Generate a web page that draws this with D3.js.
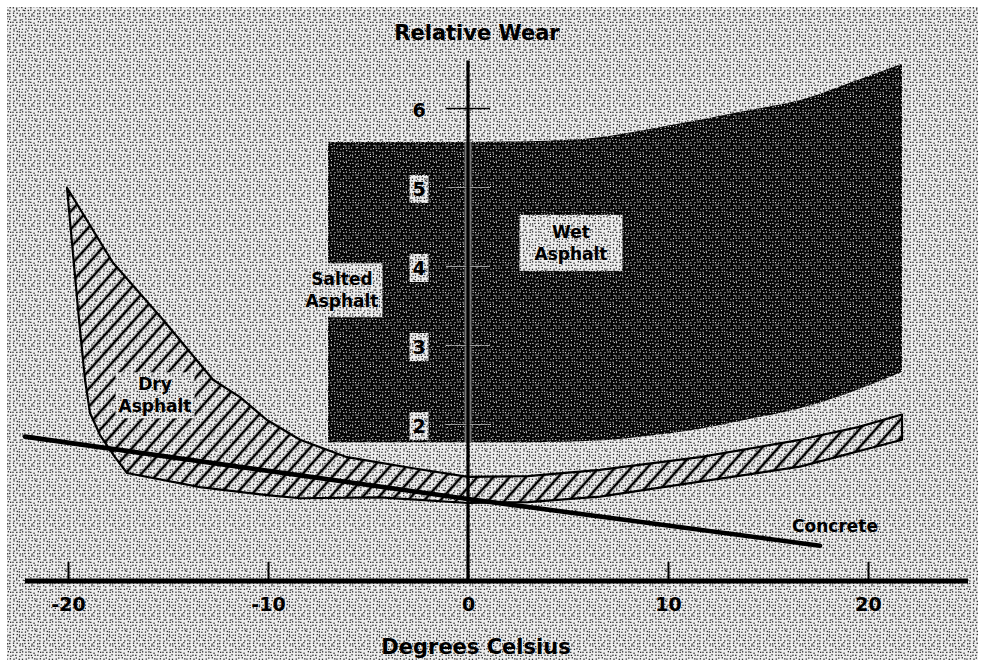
<!DOCTYPE html>
<html>
<head>
<meta charset="utf-8">
<script src="https://cdn.jsdelivr.net/npm/d3@7"></script>
<style>
  html, body { margin: 0; padding: 0; background: #ffffff; }
  svg { display: block; }
  text { font-family: "DejaVu Sans", "Liberation Sans", sans-serif; font-weight: bold; fill: #000; }
</style>
</head>
<body>
<svg id="chart" width="985" height="667"></svg>
<script>
// ---------------- data ----------------
const xTicks = [-20, -10, 0, 10, 20];
const yTicks = [2, 3, 4, 5, 6];
const xTitle = "Degrees Celsius";
const yTitle = "Relative Wear";

// Wet asphalt band (solid dark band)
const wetX      = [-7,   0,    3,    6.6,  9,    11.6, 14,   16.6, 19.1, 21.7];
const wetTop    = [5.57, 5.57, 5.58, 5.63, 5.73, 5.85, 5.97, 6.10, 6.32, 6.56];
const wetBottom = [1.77, 1.77, 1.77, 1.79, 1.85, 1.94, 2.06, 2.20, 2.40, 2.66];

// Dry asphalt band (hatched), upper edge left->right
const dryUpperX = [-20.05, -17.75, -15.25, -12.75, -11.4, -10.05, -8.4, -6.05, -2.75, 0,    3,    6.6,  11.6, 16.6, 19.5, 21.7];
const dryUpperY = [4.99,   4.04,   3.32,   2.56,   2.34,  2.05,   1.80, 1.58,  1.44,  1.33, 1.34, 1.42, 1.58, 1.80, 1.96, 2.12];
// lower edge right->left, then left edge upward
const dryLowerX = [21.7, 16.6, 11.6, 6.6,  3,    0,    -4.4, -8.4, -10.05, -13.4, -17.05, -17.65, -18.4, -18.9, -19.15, -19.45];
const dryLowerY = [1.80, 1.46, 1.27, 1.08, 1.01, 1.00, 1.07, 1.06, 1.10,   1.20,  1.38,   1.58,   1.86,  2.14,  2.56,   3.32];

// Concrete line
const concreteX = [-22.15, 0,    17.6];
const concreteY = [1.84,   1.05, 0.46];

// Labels
const bandLabels = [
  { lines: ["Wet", "Asphalt"],    x: 5.15,  y: 4.28, padX: 15, padY: 7 },
  { lines: ["Salted", "Asphalt"], x: -6.3,  y: 3.68, padX: 4,  padY: 6 },
  { lines: ["Dry", "Asphalt"],    x: -15.65, y: 2.35, padX: 3, padY: 2 }
];
const concreteLabel = { text: "Concrete", x: 18.35, y: 0.633 };

// ---------------- scales ----------------
const svg = d3.select("#chart");
const x = d3.scaleLinear().domain([-22.15, 25]).range([25, 968]);
const y = d3.scaleLinear().domain([0, 7]).range([582, 29]);

// ---------------- textures (jittered-grid stipple) ----------------
const defs = svg.append("defs");
function stipple(id, size, cell, base, dot, dotSize, seed) {
  const p = defs.append("pattern").attr("id", id)
    .attr("patternUnits", "userSpaceOnUse").attr("width", size).attr("height", size);
  p.append("rect").attr("width", size).attr("height", size).attr("fill", base);
  let s = seed >>> 0;
  const next = () => { s = (Math.imul(s, 1103515245) + 12345) >>> 0; return ((s >>> 8) & 0xffff) / 65536; };
  for (let i = 0; i < size; i += cell) {
    for (let j = 0; j < size; j += cell) {
      const ox = next() * (cell - dotSize), oy = next() * (cell - dotSize);
      p.append("rect").attr("x", i + ox).attr("y", j + oy)
        .attr("width", dotSize).attr("height", dotSize).attr("fill", dot);
    }
  }
}
stipple("stip", 30, 3, "#eeeeee", "#222222", 1.3, 12345);
stipple("dark", 30, 3, "#050505", "#e6e6e6", 1.1, 777);

const hatch = defs.append("pattern").attr("id", "hatch")
  .attr("patternUnits", "userSpaceOnUse").attr("width", 12).attr("height", 12)
  .attr("patternTransform", "rotate(42)");
hatch.append("line").attr("x1", 2).attr("y1", 0).attr("x2", 2).attr("y2", 12)
  .attr("stroke", "#000").attr("stroke-width", 2.6);

// background
svg.append("rect").attr("x", 7).attr("y", 7).attr("width", 971).attr("height", 653)
  .attr("fill", "url(#stip)");

// ---------------- wet asphalt band ----------------
const wetData = wetX.map((d, i) => ({ x: d, t: wetTop[i], b: wetBottom[i] }));
const wetArea = d3.area().curve(d3.curveMonotoneX)
  .x(d => x(d.x)).y0(d => y(d.b)).y1(d => y(d.t));
defs.append("clipPath").attr("id", "wetclip").append("path").attr("d", wetArea(wetData));
svg.append("path").attr("d", wetArea(wetData)).attr("fill", "url(#dark)");

// ---------------- dry asphalt band ----------------
const dryPts = dryUpperX.map((d, i) => [d, dryUpperY[i]])
  .concat(dryLowerX.map((d, i) => [d, dryLowerY[i]]));
const dryLine = d3.line().x(d => x(d[0])).y(d => y(d[1])).curve(d3.curveLinearClosed);
svg.append("path").attr("d", dryLine(dryPts)).attr("fill", "url(#hatch)")
  .attr("stroke", "#000").attr("stroke-width", 2.2).attr("stroke-linejoin", "round");

// ---------------- y axis ----------------
svg.append("g").attr("clip-path", "url(#wetclip)").append("line")
  .attr("x1", x(0)).attr("x2", x(0)).attr("y1", y(6.6)).attr("y2", y(0))
  .attr("stroke", "#777").attr("stroke-width", 7);

const yAxis = d3.axisLeft(y).tickValues(yTicks).tickSize(44).tickFormat("");
const yAxisG = svg.append("g").attr("transform", `translate(${x(0) + 22},0)`).call(yAxis);
yAxisG.select(".domain").remove();
yAxisG.selectAll(".tick line").attr("stroke", "#000").attr("stroke-width", 1.6);
const yAxisG2 = svg.append("g").attr("clip-path", "url(#wetclip)")
  .append("g").attr("transform", `translate(${x(0) + 22},0)`).call(yAxis);
yAxisG2.select(".domain").remove();
yAxisG2.selectAll(".tick line").attr("stroke", "#9a9a9a").attr("stroke-width", 1.2);

// ---------------- concrete line ----------------
const concLine = d3.line().x(d => x(d[0])).y(d => y(d[1]));
svg.append("path").attr("d", concLine(concreteX.map((d, i) => [d, concreteY[i]])))
  .attr("fill", "none").attr("stroke", "#000").attr("stroke-width", 4.6).attr("stroke-linecap", "round");

svg.append("line").attr("x1", x(0)).attr("x2", x(0)).attr("y1", y(6.6)).attr("y2", y(0))
  .attr("stroke", "#000").attr("stroke-width", 3.2);

// y tick labels with boxes
yTicks.forEach(v => {
  const cx = x(0) - 49, cy = y(v) + 2;
  if (v < 6) {
    svg.append("rect").attr("x", cx - 9.5).attr("y", cy - 14).attr("width", 19).attr("height", 28)
      .attr("fill", "url(#stip)");
  }
  svg.append("text").attr("x", cx).attr("y", cy + 7).attr("text-anchor", "middle")
    .attr("font-size", 19).text(v);
});

// ---------------- x axis ----------------
const xAxis = d3.axisBottom(x).tickValues(xTicks).tickSize(-19).tickPadding(17)
  .tickFormat(d => String(d));
const xAxisG = svg.append("g").attr("transform", `translate(0,${y(0) - 1})`).call(xAxis);
xAxisG.select(".domain").remove();
xAxisG.selectAll(".tick line").attr("stroke", "#000").attr("stroke-width", 2)
  .filter(d => d === 0).remove();
xAxisG.selectAll(".tick text").attr("font-size", 19)
  .attr("font-family", '"DejaVu Sans", sans-serif').attr("font-weight", "bold").attr("fill", "#000");
svg.append("line").attr("x1", x(-22.15)).attr("x2", x(25)).attr("y1", y(0) - 1).attr("y2", y(0) - 1)
  .attr("stroke", "#000").attr("stroke-width", 5);

// ---------------- titles ----------------
svg.append("text").attr("x", 477).attr("y", 40).attr("text-anchor", "middle")
  .attr("font-size", 21).text(yTitle);
svg.append("text").attr("x", 476).attr("y", 654).attr("text-anchor", "middle")
  .attr("font-size", 21).text(xTitle);

// ---------------- band labels ----------------
bandLabels.forEach(l => {
  const cx = x(l.x), cy = y(l.y);
  const g = svg.append("g");
  const rect = g.append("rect").attr("fill", "url(#stip)");
  const t = g.append("text").attr("text-anchor", "middle").attr("font-size", 17);
  l.lines.forEach((s, i) => t.append("tspan").attr("x", cx).attr("y", cy + (i === 0 ? -6 : 16)).text(s));
  const bb = t.node().getBBox();
  rect.attr("x", bb.x - l.padX).attr("y", bb.y - l.padY)
    .attr("width", bb.width + 2 * l.padX).attr("height", bb.height + 2 * l.padY);
});
svg.append("text").attr("x", x(concreteLabel.x)).attr("y", y(concreteLabel.y))
  .attr("text-anchor", "middle").attr("font-size", 17).text(concreteLabel.text);
</script>
</body>
</html>
